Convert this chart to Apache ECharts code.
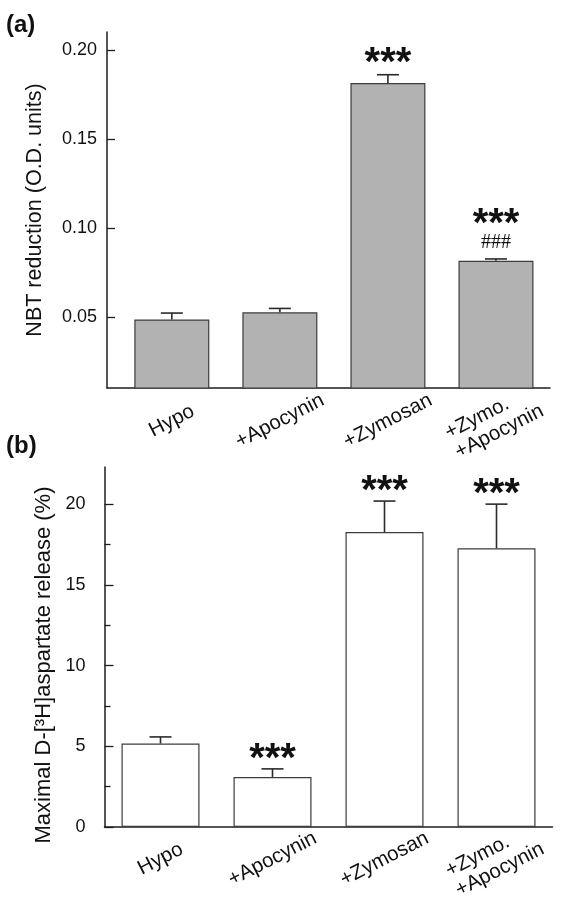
<!DOCTYPE html>
<html><head><meta charset="utf-8">
<script src="https://cdn.jsdelivr.net/npm/echarts@6/dist/echarts.min.js"></script>
<style>html,body{margin:0;padding:0;background:#fff}#c{width:562px;height:900px}</style>
</head><body><div id="c"></div>
<script>
// ---- data ----
const categories = ['Hypo', '+Apocynin', '+Zymosan', '+Zymo.\n+Apocynin'];
const nbtValues = [0.0485, 0.0525, 0.1813, 0.0815];
const nbtErrors = [0.0036, 0.0022, 0.0047, 0.0010];
const nbtStars = ['', '', '***', '***'];
const nbtHashes = ['', '', '', '###'];
const aspValues = [5.17, 3.10, 18.27, 17.26];
const aspErrors = [0.41, 0.50, 1.92, 2.74];
const aspStars = ['', '***', '***', '***'];
const aspHashes = ['', '', '', ''];
const nbtTicks = [0.05, 0.10, 0.15, 0.20];
const aspTicks = [0, 5, 10, 15, 20];
const aspMinorTicks = [2.5, 7.5, 12.5, 17.5];
const categoryPositions = [0, 1, 2, 3];

// ---- helpers ----
const FONT = '"Liberation Sans", Arial, Helvetica, sans-serif';
const AXIS_COLOR = '#1e1e1e';

function xLabelFormatter(v) {
  const i = Math.round(v);
  const t = categories[i];
  if (t.indexOf('\n') >= 0) {
    return t.split('\n').map(s => '{l|' + s + '}').join('\n');
  }
  return t;
}

function errorBarItem(capHalf, color) {
  return function (params, api) {
    const x = api.value(0), v = api.value(1), e = api.value(2);
    const base = api.coord([x, v]);
    const top = api.coord([x, v + e]);
    return {
      type: 'group',
      children: [
        { type: 'line', shape: { x1: base[0], y1: base[1], x2: top[0], y2: top[1] }, style: { stroke: color, lineWidth: 1.6 } },
        { type: 'line', shape: { x1: top[0] - capHalf, y1: top[1], x2: top[0] + capHalf, y2: top[1] }, style: { stroke: color, lineWidth: 1.6 } }
      ]
    };
  };
}

function annotItem(stars, hashes, starGap, hashGap, starAboveHash) {
  return function (params, api) {
    const i = params.dataIndex;
    const top = api.coord([api.value(0), api.value(1) + api.value(2)]);
    const children = [];
    let sy = top[1] - starGap;
    if (hashes[i]) {
      children.push({ type: 'text', x: top[0], y: top[1] - hashGap,
        style: { text: hashes[i], font: '20px "Liberation Serif", "Times New Roman", serif', fill: '#111', align: 'center', verticalAlign: 'middle' } });
      sy = top[1] - hashGap - starAboveHash;
    }
    if (stars[i]) {
      children.push({ type: 'text', x: top[0], y: sy,
        style: { text: stars[i], font: 'bold 40px ' + FONT, fill: '#111', align: 'center', verticalAlign: 'middle' } });
    }
    return { type: 'group', children };
  };
}

const nbtBarData = categoryPositions.map((p, i) => [p, nbtValues[i]]);
const nbtErrData = categoryPositions.map((p, i) => [p, nbtValues[i], nbtErrors[i]]);
const aspBarData = categoryPositions.map((p, i) => [p, aspValues[i]]);
const aspErrData = categoryPositions.map((p, i) => [p, aspValues[i], aspErrors[i]]);

function xAxisCfg(gridIndex, min, margin) {
  return {
    type: 'value', gridIndex, min, max: 3.5,
    axisLine: { show: true, onZero: false, lineStyle: { color: AXIS_COLOR, width: 1.5 } },
    axisTick: { show: false },
    splitLine: { show: false },
    axisLabel: {
      customValues: categoryPositions,
      formatter: xLabelFormatter,
      rotate: 27, margin, align: 'center', verticalAlign: 'middle',
      fontFamily: FONT, fontSize: 20.5, color: '#111', lineHeight: 22,
      rich: { l: { width: 100, align: 'left', fontFamily: FONT, fontSize: 20.5, color: '#111', lineHeight: 22 } }
    }
  };
}

const chart = echarts.init(document.getElementById('c'), null, { renderer: 'canvas' });
chart.setOption({
  animation: false,
  backgroundColor: '#fff',
  grid: [
    { left: 107, top: 32, width: 443, height: 356, outerBoundsMode: 'none', containLabel: false },
    { left: 104.5, top: 467, width: 448, height: 360, outerBoundsMode: 'none', containLabel: false }
  ],
  graphic: [
    { type: 'text', left: 6, top: 13, style: { text: '(a)', font: 'bold 24px ' + FONT, fill: '#111' } },
    { type: 'text', left: 6, top: 434, style: { text: '(b)', font: 'bold 24px ' + FONT, fill: '#111' } }
  ],
  xAxis: [xAxisCfg(0, -0.6, 33), xAxisCfg(1, -0.5, 32)],
  yAxis: [
    {
      type: 'value', gridIndex: 0, min: 0.01, max: 0.21, position: 'left',
      name: 'NBT reduction (O.D. units)', nameLocation: 'middle', nameGap: 61,
      nameTextStyle: { fontFamily: FONT, fontSize: 21.5, color: '#111' },
      axisLine: { show: true, onZero: false, lineStyle: { color: AXIS_COLOR, width: 1.5 } },
      axisTick: { show: true, inside: true, length: 8, customValues: nbtTicks, lineStyle: { color: AXIS_COLOR, width: 1.3 } },
      axisLabel: { customValues: nbtTicks, formatter: v => v.toFixed(2), margin: 10, fontFamily: FONT, fontSize: 18, color: '#111' },
      splitLine: { show: false }
    },
    {
      type: 'value', gridIndex: 1, min: 0, max: 22.3, position: 'left',
      name: 'Maximal D-[³H]aspartate release (%)', nameLocation: 'middle', nameGap: 48,
      nameTextStyle: { fontFamily: FONT, fontSize: 22, color: '#111', padding: [0, 36, 0, 0] },
      axisLine: { show: true, onZero: false, lineStyle: { color: AXIS_COLOR, width: 1.5 } },
      axisTick: { show: true, inside: true, length: 9, customValues: aspTicks, lineStyle: { color: AXIS_COLOR, width: 1.3 } },
      axisLabel: { customValues: aspTicks, margin: 19, fontFamily: FONT, fontSize: 18, color: '#111' },
      splitLine: { show: false }
    },
    {
      type: 'value', gridIndex: 1, min: 0, max: 22.3, position: 'left', offset: 0,
      axisLine: { show: false, onZero: false },
      axisTick: { show: true, inside: true, length: 6, customValues: aspMinorTicks, lineStyle: { color: AXIS_COLOR, width: 1.3 } },
      axisLabel: { show: false },
      splitLine: { show: false }
    }
  ],
  series: [
    { type: 'bar', xAxisIndex: 0, yAxisIndex: 0, data: nbtBarData, barWidth: 75,
      itemStyle: { color: '#b2b2b2', borderColor: '#3c3c3c', borderWidth: 1.2 } },
    { type: 'custom', xAxisIndex: 0, yAxisIndex: 0, data: nbtErrData, renderItem: errorBarItem(11, '#2a2a2a'), z: 3 },
    { type: 'custom', xAxisIndex: 0, yAxisIndex: 0, data: nbtErrData, renderItem: annotItem(nbtStars, nbtHashes, 11, 16, 18), z: 4 },
    { type: 'bar', xAxisIndex: 1, yAxisIndex: 1, data: aspBarData, barWidth: 78,
      itemStyle: { color: '#ffffff', borderColor: '#3c3c3c', borderWidth: 1.2 } },
    { type: 'custom', xAxisIndex: 1, yAxisIndex: 1, data: aspErrData, renderItem: errorBarItem(11, '#2a2a2a'), z: 3 },
    { type: 'custom', xAxisIndex: 1, yAxisIndex: 1, data: aspErrData, renderItem: annotItem(aspStars, aspHashes, 9, 16, 17), z: 4 }
  ]
});
</script></body></html>
